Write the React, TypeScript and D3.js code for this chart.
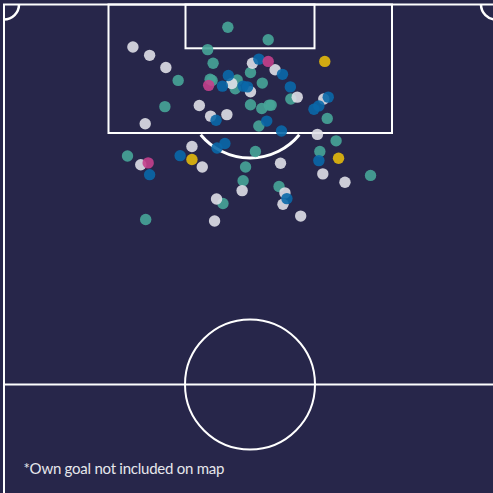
import React, { useEffect } from "react";
import * as d3 from "d3";

const tealX = [45.5,41.4,42.5,35.4,32.7,41.9,42.3,47.4,47.0,50.1,52.5,50.1,52.4,53.9,54.3,51.8,53.7,58.3,65.7,46.3,25.1,49.1,48.6,44.5,28.8,67.5,51.1,64.2,74.5,55.9];
const tealY = [5.9,11.8,15.4,19.9,26.8,19.6,19.9,19.8,22.1,17.8,20.6,26.3,27.3,26.4,26.4,31.9,9.2,24.8,29.9,20.7,39.8,42.7,46.3,52.3,56.5,35.8,38.6,38.6,44.9,47.8];
const whiteX = [26.2,29.6,32.9,39.7,42.0,45.3,46.3,50.1,50.5,55.1,59.6,65.0,28.7,38.2,27.8,40.3,48.4,43.2,42.8,63.7,56.2,64.8,69.3,57.1,56.7,60.3];
const whiteY = [11.1,13.3,16.5,26.5,29.3,28.9,20.7,22.9,15.4,17.1,24.3,24.8,31.3,37.3,42.1,42.7,48.9,51.1,56.9,34.1,41.7,44.5,46.7,49.5,52.5,55.6];
const blueX = [45.6,44.4,48.6,49.5,51.8,56.6,43.1,53.4,58.2,65.9,64.0,63.0,44.9,43.3,29.6,35.8,56.4,64.0,57.5];
const blueY = [18.6,21.4,21.4,21.6,14.3,18.3,30.4,30.6,21.6,24.3,26.6,27.5,36.5,37.7,44.7,39.7,33.2,41.0,51.0];
const pinkX = [41.6,53.7,29.3];
const pinkY = [21.2,14.9,41.6];
const yellowX = [65.2,38.2,68.0];
const yellowY = [14.9,40.7,40.4];
const seriesNames = ["teal", "white", "blue", "pink", "yellow"];
const seriesColors = ["#47a598", "#dfdfe7", "#0a68a8", "#c4408c", "#e3b90c"];
const seriesXs = [tealX, whiteX, blueX, pinkX, yellowX];
const seriesYs = [tealY, whiteY, blueY, pinkY, yellowY];
const note = "*Own goal not included on map";

const SIZE = 493;
const x = d3.scaleLinear().domain([0, 100]).range([4, 496]);
const y = d3.scaleLinear().domain([0, 100]).range([4.8, 384.8]);

export default function App() {
  useEffect(() => {
    document.body.style.margin = "0";
    document.body.style.background = "#27264a";
  }, []);
  const arc = (r: number, a0: number, a1: number) =>
    d3.arc()({ innerRadius: r, outerRadius: r, startAngle: a0, endAngle: a1 }) as string;
  const line = { fill: "none", stroke: "#ffffff", strokeWidth: 2 };
  return (
    <svg width={SIZE} height={SIZE} viewBox={`0 0 ${SIZE} ${SIZE}`} style={{ position: "absolute", left: 0, top: 0, display: "block" }}>
      <rect width={SIZE} height={SIZE} fill="#27264a" />
      <path d="M4,493V4.5H500M500,384.5H4" {...line} />
      <rect x={108.5} y={4.5} width={283.5} height={128.5} {...line} />
      <rect x={185.5} y={4.5} width={129} height={43.8} {...line} />
      <circle cx={250} cy={384.5} r={65} {...line} />
      <g transform="translate(4,4.5)"><path d={arc(15, Math.PI / 2, Math.PI)} {...line} strokeWidth={2.5} /></g>
      <g transform="translate(496,4.5)"><path d={arc(15, Math.PI, 1.5 * Math.PI)} {...line} strokeWidth={2.5} /></g>
      <path d={arc(64, Math.PI - 0.88, Math.PI + 0.88)} transform="translate(250,94)" {...line} strokeWidth={3} />
      {seriesNames.map((name, s) => (
        <g key={name}>
          {seriesXs[s].map((v, i) => (
            <circle key={i} cx={x(v)} cy={y(seriesYs[s][i])} r={5.7} fill={seriesColors[s]} fillOpacity={0.9} />
          ))}
        </g>
      ))}
      <text x={23.5} y={474} fill="#e6e6ec" fontFamily="Lato" fontSize={15} letterSpacing={-0.25}>{note}</text>
    </svg>
  );
}
